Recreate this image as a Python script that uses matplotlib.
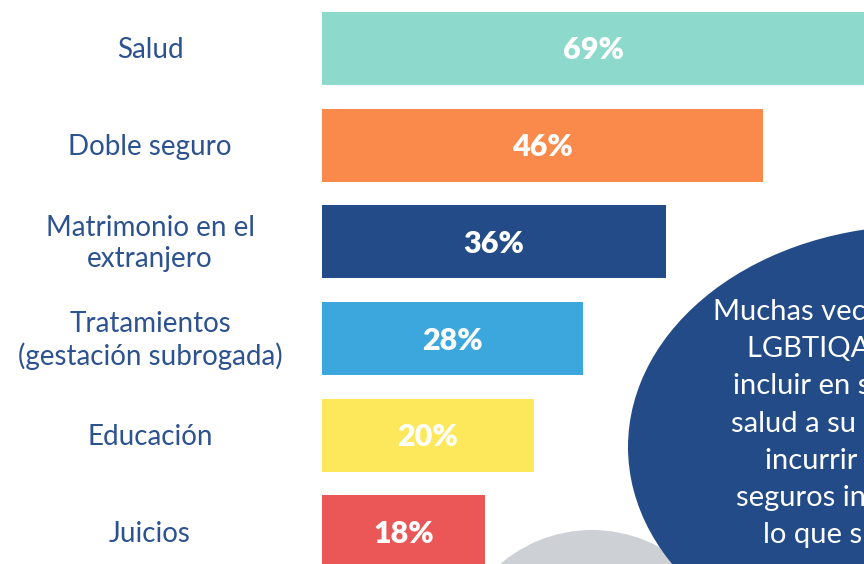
import matplotlib
matplotlib.use("Agg")
from matplotlib import pyplot as plt
from matplotlib.patches import Ellipse, Circle
import matplotlib.transforms as mtransforms

# data
categories = ["Salud", "Doble seguro", "Matrimonio en el\nextranjero",
              "Tratamientos\n(gestación subrogada)", "Educación", "Juicios"]
pct_labels = ["69%", "46%", "36%", "28%", "20%", "18%"]
bar_lengths = [69, 46, 35.9, 27.2, 22.1, 17.0]   # as drawn in the picture
bar_colors = ["#8dd9cc", "#f98a4b", "#224b87", "#3ca7dc", "#fde75a", "#eb5757"]

note_lines = ["Muchas veces las parejas",
              "LGBTIQA+ no pueden",
              "incluir en su seguro de",
              "salud a su pareja, e",
              "incurrir en dobles",
              "seguros individuales,",
              "lo que supone un"]
note_left = [713, 747, 733, 731, 765, 736, 763]

FONT = "Lato"
LABEL_COLOR = "#2c5290"
W, H = 864, 564

fig = plt.figure(figsize=(W / 100, H / 100), dpi=100)
fig.patch.set_facecolor("white")

# bars
ax = fig.add_axes([322 / W, 0, 1 - 322 / W, 1])
xmax = 542 / 9.587
ypos = list(range(len(bar_lengths)))
ax.barh(ypos, bar_lengths, height=0.755, color=bar_colors, zorder=2)
ax.set_xlim(0, xmax)
ax.set_ylim(5.331, -0.5016)
ax.axis("off")

trans = mtransforms.blended_transform_factory(ax.transAxes, ax.transData)
for y, cat, v, lab in zip(ypos, categories, bar_lengths, pct_labels):
    ax.text((150 - 322) / 542, y + 0.02, cat, transform=trans, ha="center",
            va="center", fontsize=20, color=LABEL_COLOR, family=FONT,
            linespacing=1.25, clip_on=False)
    ax.text(min(v, xmax) / 2, y + 0.02, lab, ha="center", va="center",
            fontsize=22, fontweight="heavy", color="white", family=FONT, zorder=3)

# decorative shapes and note (pixel coordinates)
ov = fig.add_axes([0, 0, 1, 1], zorder=5)
ov.set_xlim(0, W)
ov.set_ylim(H, 0)
ov.axis("off")
ov.patch.set_alpha(0)
ov.add_patch(Circle((592, 671), 141, color="#cdd1d5", lw=0))
ov.add_patch(Ellipse((920, 447), 584, 443, color="#224b87", lw=0))

for i, (line, x0) in enumerate(zip(note_lines, note_left)):
    ov.text(x0, 312 + i * 37.2, line, ha="left", va="center",
            fontsize=21, color="white", family=FONT)

fig.savefig("out.png", dpi=100)
